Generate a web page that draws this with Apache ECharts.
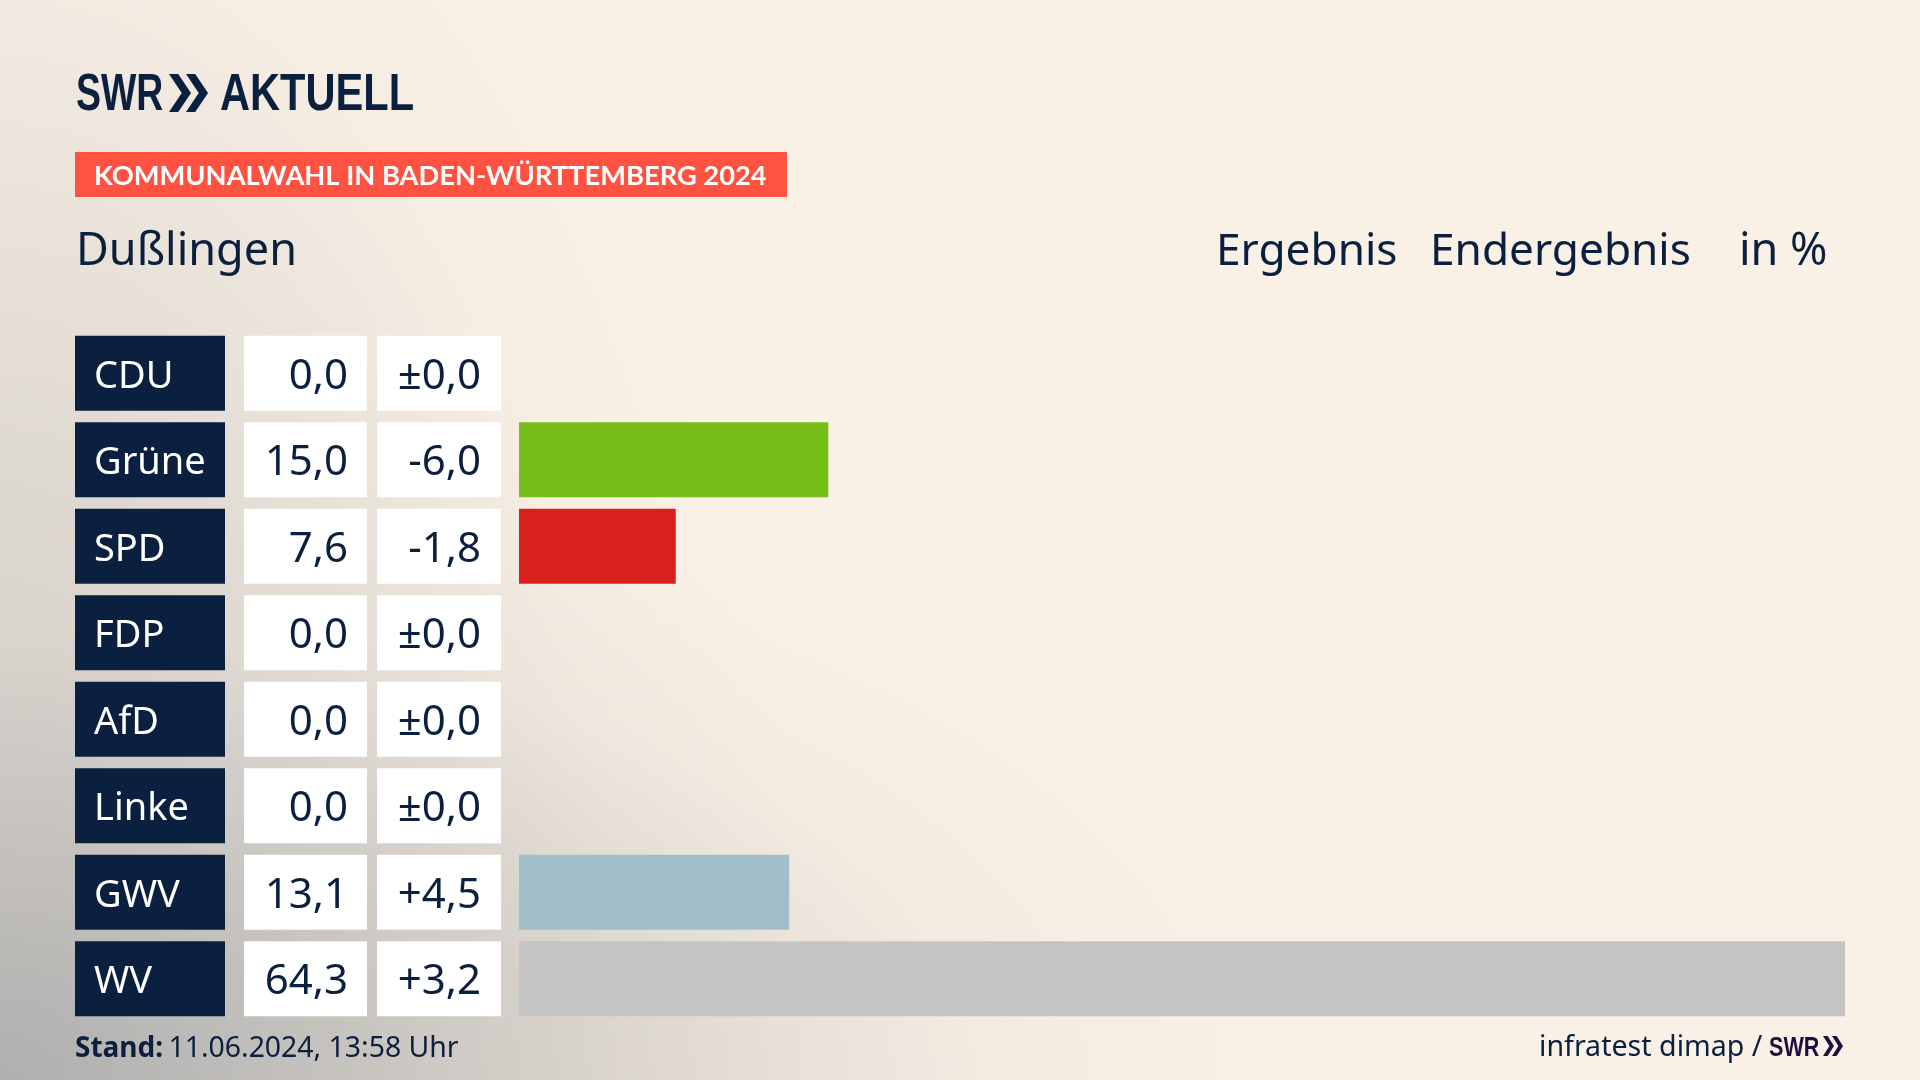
<!DOCTYPE html>
<html lang="de">

<head>
    <meta charset="UTF-8">
    <title>Kommunalwahl Dußlingen</title>
    <script src="https://cdn.jsdelivr.net/npm/echarts@6/dist/echarts.min.js"></script>
</head>
<style>
    html, body {
        margin: 0;
        padding: 0;
    }

    #main {
        width: 1920px;
        height: 1080px;
        background-color: #faf1e6;
        background-image:
            radial-gradient(ellipse 1300px 600px at 0 1080px, rgba(170, 170, 170, 0.72) 0%, rgba(195, 192, 188, 0.55) 45%, rgba(228, 220, 212, 0.32) 75%, rgba(250, 241, 230, 0) 100%),
            radial-gradient(ellipse 800px 1450px at 0 1080px, rgba(170, 170, 170, 0.72) 0%, rgba(205, 202, 197, 0.5) 50%, rgba(232, 225, 216, 0.28) 78%, rgba(250, 241, 230, 0) 100%);
    }
</style>

<body>
    <div id="main"></div>
</body>
<script>
    const parties = ["CDU", "Grüne", "SPD", "FDP", "AfD", "Linke", "GWV", "WV"];
    const results = [0.0, 15.0, 7.6, 0.0, 0.0, 0.0, 13.1, 64.3];
    const changes = ["±0,0", "-6,0", "-1,8", "±0,0", "±0,0", "±0,0", "+4,5", "+3,2"];
    const barColors = ["#0a1e3e", "#78be1a", "#d8201c", "#ffd600", "#009ee0", "#be3075", "#a1bfc8", "#c4c4c4"];

    const fontName = "Noto Sans";
    const navy = "#0b1f3f";

    var chart = echarts.init(document.getElementById('main'));

    // the table cells left of the bars are axis labels with a background
    function cellAxis(labels, margin, width, padding, align, background, color, size) {
        return {
            type: 'category',
            position: 'left',
            inverse: true,
            data: labels,
            axisLine: { show: false },
            axisTick: { show: false },
            axisLabel: {
                interval: 0,
                margin: margin,
                align: 'left',
                formatter: (v) => '{c|' + v + '}',
                rich: {
                    c: {
                        width: width - padding,
                        height: 68,
                        lineHeight: 68,
                        padding: align == 'left' ? [7, 0, 0, padding] : [7, padding, 0, 0],
                        align: align,
                        backgroundColor: background,
                        color: color,
                        fontFamily: fontName,
                        fontSize: size
                    }
                }
            }
        };
    }

    function headText(text, x, y, size) {
        return {
            type: 'text',
            x: x,
            y: y,
            style: {
                text: text,
                fontFamily: fontName,
                fontSize: size,
                fill: navy,
                textVerticalAlign: 'middle'
            }
        };
    }

    function logoText(text, x, y, size, scaleX, color) {
        return {
            type: 'text',
            x: x,
            y: y,
            scaleX: scaleX,
            style: {
                text: text,
                fontFamily: 'Liberation Sans',
                fontWeight: 'bold',
                fontSize: size,
                fill: color,
                textVerticalAlign: 'middle'
            }
        };
    }

    function chevron(x, y, w, h, color) {
        return {
            type: 'polygon',
            shape: {
                points: [[x, y], [x + w * 0.58, y + h / 2], [x, y + h], [x + w * 0.42, y + h], [x + w, y + h / 2], [x + w * 0.42, y]]
            },
            style: { fill: color }
        };
    }

    var option = {
        animation: false,
        grid: { left: 519, top: 330, width: 1326, height: 692, outerBoundsMode: 'none' },
        xAxis: { type: 'value', min: 0, max: 64.3, show: false },
        yAxis: [
            cellAxis(parties, 444, 150, 19, 'left', navy, '#ffffff', 38),
            cellAxis(results.map((v) => v.toFixed(1).replace('.', ',')), 275, 123, 19, 'right', '#ffffff', navy, 42),
            cellAxis(changes, 142, 124, 20, 'right', '#ffffff', navy, 42)
        ],
        series: [
            {
                type: 'bar',
                yAxisIndex: 0,
                barWidth: 75,
                data: results.map((v, i) => ({ value: v, itemStyle: { color: barColors[i] } }))
            },
            { type: 'bar', yAxisIndex: 1, barWidth: 75, silent: true, data: [] },
            { type: 'bar', yAxisIndex: 2, barWidth: 75, silent: true, data: [] }
        ],
        graphic: [
            logoText('SWR', 76, 96, 52, 0.72, navy),
            chevron(169, 74, 22, 38, navy),
            chevron(186, 74, 22, 38, navy),
            logoText('AKTUELL', 220, 96, 52, 0.8, navy),
            { type: 'rect', shape: { x: 75, y: 152, width: 712, height: 45 }, style: { fill: '#ff5240' } },
            {
                type: 'text', x: 94, y: 176,
                style: { text: 'KOMMUNALWAHL IN BADEN-WÜRTTEMBERG 2024', fontFamily: 'Lato', fontWeight: 'bold', fontSize: 27.3, fill: '#ffffff', textVerticalAlign: 'middle' }
            },
            headText('Dußlingen', 76, 252, 45),
            headText('Ergebnis', 1216, 252, 44.2),
            headText('Endergebnis', 1430, 252, 44.2),
            headText('in %', 1739, 252, 45),
            {
                type: 'text', x: 75, y: 1049,
                style: {
                    text: '{b|Stand:} {n|11.06.2024, 13:58 Uhr}',
                    textVerticalAlign: 'middle',
                    rich: {
                        b: { fontFamily: fontName, fontWeight: 'bold', fontSize: 28, fill: navy },
                        n: { fontFamily: fontName, fontSize: 28.4, fill: navy, padding: [0, 0, 0, 2] }
                    }
                }
            },
            headText('infratest dimap /', 1539, 1048, 28.6),
            logoText('SWR', 1769, 1048, 28, 0.77, '#1f0f3f'),
            chevron(1823, 1036, 11, 20, '#1f0f3f'),
            chevron(1832, 1036, 11, 20, '#1f0f3f')
        ]
    };

    chart.setOption(option);
</script>

</html>
